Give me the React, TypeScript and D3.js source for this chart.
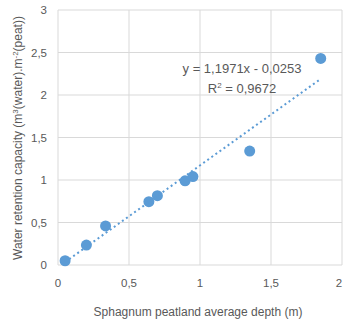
import React, { useEffect, useRef } from 'react';
import * as d3 from 'd3';

// depth (m) vs water retention capacity
const depths = [0.05, 0.2, 0.335, 0.64, 0.7, 0.895, 0.95, 1.35, 1.85];
const capacities = [0.05, 0.235, 0.46, 0.745, 0.815, 0.99, 1.04, 1.34, 2.43];
const xTicks = [0, 0.5, 1, 1.5, 2];
const yTicks = [0, 0.5, 1, 1.5, 2, 2.5, 3];
const slope = 1.1971;
const intercept = -0.0253;
const equationText = 'y = 1,1971x - 0,0253';
const r2Value = '0,9672';

const fmt = (v: number) => String(v).replace('.', ',');

export default function App() {
  const ref = useRef<SVGSVGElement>(null);

  useEffect(() => {
    const width = 343;
    const height = 322;
    const font = 'Liberation Sans, Arial, sans-serif';
    const textColor = '#595959';

    const svg = d3.select(ref.current)
      .attr('width', width)
      .attr('height', height);
    svg.selectAll('*').remove();

    const x = d3.scaleLinear().domain([0, 2]).range([58, 342]);
    const y = d3.scaleLinear().domain([0, 3]).range([265, 10]);

    // gridlines
    svg.append('g').selectAll('line.h')
      .data(yTicks)
      .enter()
      .append('line')
      .attr('x1', x(0)).attr('x2', x(2))
      .attr('y1', d => y(d)).attr('y2', d => y(d))
      .attr('stroke', '#d9d9d9').attr('stroke-width', 1);
    svg.append('g').selectAll('line.v')
      .data(xTicks)
      .enter()
      .append('line')
      .attr('x1', d => x(d)).attr('x2', d => x(d))
      .attr('y1', y(0)).attr('y2', y(3))
      .attr('stroke', '#d9d9d9').attr('stroke-width', 1);

    // tick labels
    svg.append('g').selectAll('text')
      .data(yTicks)
      .enter()
      .append('text')
      .attr('x', 47)
      .attr('y', d => y(d) + 4)
      .attr('text-anchor', 'end')
      .attr('font-family', font)
      .attr('font-size', 11.5)
      .attr('fill', textColor)
      .text(d => fmt(d));
    svg.append('g').selectAll('text')
      .data(xTicks)
      .enter()
      .append('text')
      .attr('x', d => Math.min(x(d), width - 4))
      .attr('y', 287)
      .attr('text-anchor', 'middle')
      .attr('font-family', font)
      .attr('font-size', 11.5)
      .attr('fill', textColor)
      .text(d => fmt(d));

    // points
    svg.append('g').selectAll('circle')
      .data(depths.map((d, i) => [d, capacities[i]]))
      .enter()
      .append('circle')
      .attr('cx', d => x(d[0]))
      .attr('cy', d => y(d[1]))
      .attr('r', 5.5)
      .attr('fill', '#5b9bd5');

    // trendline
    const xMin = d3.min(depths) as number;
    const xMax = d3.max(depths) as number;
    svg.append('line')
      .attr('x1', x(xMin)).attr('y1', y(slope * xMin + intercept))
      .attr('x2', x(xMax)).attr('y2', y(slope * xMax + intercept))
      .attr('stroke', '#5b9bd5')
      .attr('stroke-width', 2)
      .attr('stroke-dasharray', '2,3');

    // equation
    svg.append('text')
      .attr('x', 242).attr('y', 73)
      .attr('text-anchor', 'middle')
      .attr('font-family', font).attr('font-size', 13)
      .attr('fill', textColor)
      .text(equationText);
    const r2 = svg.append('text')
      .attr('x', 242).attr('y', 93)
      .attr('text-anchor', 'middle')
      .attr('font-family', font).attr('font-size', 13)
      .attr('fill', textColor);
    r2.append('tspan').text('R');
    r2.append('tspan').attr('dy', -5).attr('font-size', 8).text('2');
    r2.append('tspan').attr('dy', 5).text(' = ' + r2Value);

    // axis titles
    svg.append('text')
      .attr('x', 198).attr('y', 316)
      .attr('text-anchor', 'middle')
      .attr('font-family', font).attr('font-size', 12)
      .attr('fill', textColor)
      .text('Sphagnum peatland average depth (m)');

    const yl = svg.append('text')
      .attr('transform', 'translate(22,138) rotate(-90)')
      .attr('text-anchor', 'middle')
      .attr('font-family', font).attr('font-size', 12)
      .attr('fill', textColor);
    yl.append('tspan').text('Water retention capacity  (m');
    yl.append('tspan').attr('dy', -4).attr('font-size', 8).text('3');
    yl.append('tspan').attr('dy', 4).text('(water).m');
    yl.append('tspan').attr('dy', -4).attr('font-size', 8).text('-2');
    yl.append('tspan').attr('dy', 4).text('(peat))');
  }, []);

  return (
    <div style={{ position: 'fixed', left: 0, top: 0, background: '#fff' }}>
      <svg ref={ref} style={{ display: 'block' }} />
    </div>
  );
}
